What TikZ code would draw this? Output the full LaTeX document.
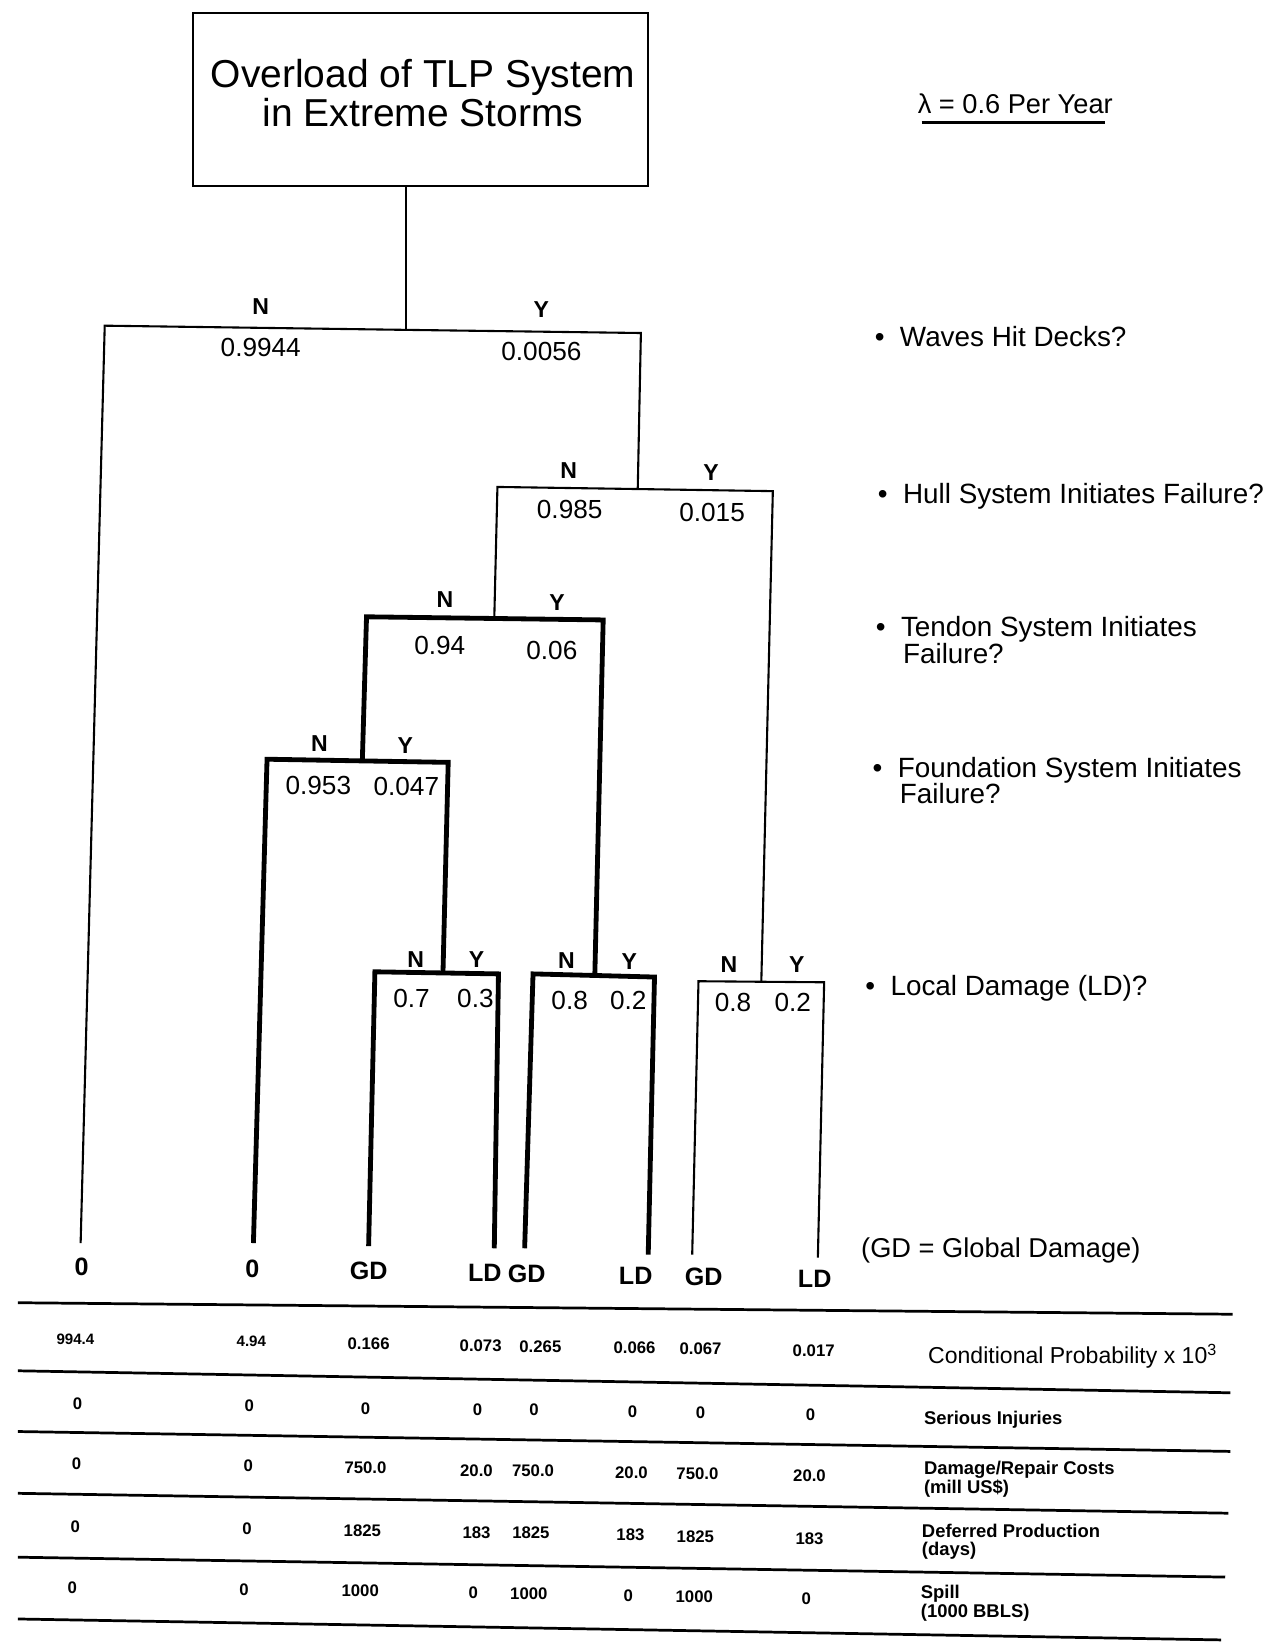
\documentclass[tikz,border=0pt]{standalone}
\usepackage{fontspec}
\setmainfont{Liberation Sans}
\begin{document}
\begin{tikzpicture}[x=0.5pt,y=-0.5pt,
  thinline/.style={line width=1pt},
  heavyline/.style={line width=2.3pt},
  ruleline/.style={line width=1.3pt},
  question/.style={font=\fontsize{13.3}{14}\selectfont, anchor=base west, inner sep=0pt},
  prob/.style={font=\fontsize{12.5}{13}\selectfont, inner sep=0pt},
  yn/.style={font=\bfseries\fontsize{11}{12}\selectfont, inner sep=0pt},
  leaf/.style={font=\bfseries\fontsize{12}{13}\selectfont, inner sep=0pt},
  val/.style={font=\bfseries\fontsize{8}{9}\selectfont, inner sep=0pt},
  smallval/.style={font=\bfseries\fontsize{7.2}{8}\selectfont, inner sep=0pt},
  rowlabel/.style={font=\bfseries\fontsize{8.8}{9}\selectfont, anchor=base west, inner sep=0pt}]
\newcommand{\qbul}{\makebox[12pt][l]{\textbullet}}

% frame of the picture
\useasboundingbox (0,0) rectangle (1225,1568);

% ---- initiating event
\node[draw, thinline, minimum width=217.5pt, minimum height=83pt, inner sep=0pt] (root) at (401.5,95) {};
\node[font=\fontsize{18.6}{16.5}\selectfont, align=center, inner sep=0pt] (title) at (404,89)
  {Overload of TLP System\\in Extreme Storms};
\node[font=\fontsize{13}{14}\selectfont, anchor=base west, inner sep=0pt] (lam) at (876,108) {λ = 0.6 Per Year};
\coordinate (lamA) at (880,117);
\coordinate (lamB) at (1055,117);
\draw[thinline] (lamA) -- (lamB);

% ---- branch points
\coordinate (J1) at (388,315);
\coordinate (A1) at (100,311);
\coordinate (B1) at (612,318);
\coordinate (J2) at (609,467);
\coordinate (A2) at (475,465);
\coordinate (B2) at (738,469);
\coordinate (J3) at (472,590.6);
\coordinate (A3) at (350,589);
\coordinate (B3) at (576,592);
\coordinate (J4) at (346,726.6);
\coordinate (A4) at (255,725);
\coordinate (B4) at (428,728);
\coordinate (J5a) at (423,929.1);
\coordinate (A5a) at (358,928);
\coordinate (B5a) at (476,930);
\coordinate (J5b) at (568,931.5);
\coordinate (A5b) at (509,930);
\coordinate (B5b) at (625,933);
\coordinate (J5c) at (727,937.5);
\coordinate (A5c) at (667,937);
\coordinate (B5c) at (787,938);
% leaf ends
\coordinate (E1) at (77,1187);
\coordinate (E2) at (242,1187);
\coordinate (E3) at (352,1190);
\coordinate (E4) at (472,1192);
\coordinate (E5) at (501,1192);
\coordinate (E6) at (619,1198);
\coordinate (E7) at (661,1198);
\coordinate (E8) at (781,1201);

% ---- tree
\draw[thinline] (root.south -| J1) -- (J1);
\draw[thinline] (E1) -- (A1) -- (J1) -- (B1) -- (J2);
\draw[thinline] (J3) -- (A2) -- (J2) -- (B2) -- (J5c);
\draw[heavyline] (J4) -- (A3) -- (J3) -- (B3) -- (J5b);
\draw[heavyline] (E2) -- (A4) -- (J4) -- (B4) -- (J5a);
\draw[heavyline] (E3) -- (A5a) -- (J5a) -- (B5a) -- (E4);
\draw[heavyline] (E5) -- (A5b) -- (J5b) -- (B5b) -- (E6);
\draw[thinline] (E7) -- (A5c) -- (J5c) -- (B5c) -- (E8);

% ---- branch labels
\node[yn] (n1) at (249,293) {N};
\node[yn] (y1) at (517,296) {Y};
\node[prob] (pn1) at (249,332) {0.9944};
\node[prob] (py1) at (517,336) {0.0056};

\node[yn] (n2) at (543,449) {N};
\node[yn] (y2) at (679,451) {Y};
\node[prob] (pn2) at (544,487) {0.985};
\node[prob] (py2) at (680,489) {0.015};

\node[yn] (n3) at (425,573) {N};
\node[yn] (y3) at (532,575) {Y};
\node[prob] (pn3) at (420,616) {0.94};
\node[prob] (py3) at (527,621) {0.06};

\node[yn] (n4) at (305,710) {N};
\node[yn] (y4) at (387,712) {Y};
\node[prob] (pn4) at (304,750) {0.953};
\node[prob] (py4) at (388,751) {0.047};

\node[yn] (n5a) at (397,916) {N};
\node[yn] (y5a) at (455,916) {Y};
\node[prob] (pn5a) at (393,953) {0.7};
\node[prob] (py5a) at (454,953) {0.3};

\node[yn] (n5b) at (541,917) {N};
\node[yn] (y5b) at (601,918) {Y};
\node[prob] (pn5b) at (544,955) {0.8};
\node[prob] (py5b) at (600,955) {0.2};

\node[yn] (n5c) at (696,921) {N};
\node[yn] (y5c) at (761,921) {Y};
\node[prob] (pn5c) at (700,957) {0.8};
\node[prob] (py5c) at (757,957) {0.2};

% ---- outcomes
\node[leaf] (o1) at (78,1210) {0};
\node[leaf] (o2) at (241,1212) {0};
\node[leaf] (o3) at (352,1214) {GD};
\node[leaf] (o4) at (463,1215) {LD};
\node[leaf] (o5) at (503,1216) {GD};
\node[leaf] (o6) at (607,1218) {LD};
\node[leaf] (o7) at (672,1219) {GD};
\node[leaf] (o8) at (778,1221) {LD};

% ---- questions at each level
\node[question] (q1) at (835,331) {\qbul Waves Hit Decks?};
\node[question] (q2) at (838,481) {\qbul Hull System Initiates Failure?};
\node[question] (q3) at (836,608) {\qbul Tendon System Initiates};
\node[question] (q3b) at (862,634) {Failure?};
\node[question] (q4) at (833,742.5) {\qbul Foundation System Initiates};
\node[question] (q4b) at (859,767) {Failure?};
\node[question] (q5) at (826,950.5) {\qbul Local Damage (LD)?};
\node[font=\fontsize{13}{14}\selectfont, anchor=base west, inner sep=0pt] (gdnote) at (822,1201) {(GD = Global Damage)};

% ---- consequence table rules
\coordinate (r1a) at (17,1244);  \coordinate (r1b) at (1177,1255);
\coordinate (r2a) at (17,1309);  \coordinate (r2b) at (1175,1330);
\coordinate (r3a) at (17,1367);  \coordinate (r3b) at (1175,1386);
\coordinate (r4a) at (17,1426);  \coordinate (r4b) at (1173,1445);
\coordinate (r5a) at (17,1487);  \coordinate (r5b) at (1170,1506);
\coordinate (r6a) at (17,1546);  \coordinate (r6b) at (1166,1566);
\foreach \r in {1,...,6} \draw[ruleline] (r\r a) -- (r\r b);

% row: conditional probability
\node[smallval] (v11) at (72,1279) {994.4};
\node[smallval] (v12) at (240,1281) {4.94};
\node[val] (v13) at (352,1283) {0.166};
\node[val] (v14) at (459,1285) {0.073};
\node[val] (v15) at (516,1286) {0.265};
\node[val] (v16) at (606,1287) {0.066};
\node[val] (v17) at (669,1288) {0.067};
\node[val] (v18) at (777,1290) {0.017};
\node[font=\fontsize{11}{12}\selectfont, anchor=base west, inner sep=0pt] (lab1) at (886,1302)
  {Conditional Probability x 10\textsuperscript{3}};

% row: serious injuries
\node[val] (v21) at (74,1340) {0};
\node[val] (v22) at (238,1342) {0};
\node[val] (v23) at (349,1345) {0};
\node[val] (v24) at (456,1346) {0};
\node[val] (v25) at (510,1346) {0};
\node[val] (v26) at (604,1348) {0};
\node[val] (v27) at (669,1349) {0};
\node[val] (v28) at (774,1351) {0};
\node[rowlabel] (lab2) at (882,1360.5) {Serious Injuries};

% row: damage / repair costs
\node[val] (v31) at (73,1398) {0};
\node[val] (v32) at (237,1400) {0};
\node[val] (v33) at (349,1402) {750.0};
\node[val] (v34) at (455,1404) {20.0};
\node[val] (v35) at (509,1404) {750.0};
\node[val] (v36) at (603,1406) {20.0};
\node[val] (v37) at (666,1407) {750.0};
\node[val] (v38) at (773,1409) {20.0};
\node[rowlabel] (lab3) at (882,1408.5) {Damage/Repair Costs};
\node[rowlabel] (lab3b) at (882,1426) {(mill US\$)};

% row: deferred production
\node[val] (v41) at (72,1458) {0};
\node[val] (v42) at (236,1460) {0};
\node[val] (v43) at (346,1462) {1825};
\node[val] (v44) at (455,1464) {183};
\node[val] (v45) at (507,1464) {1825};
\node[val] (v46) at (602,1466) {183};
\node[val] (v47) at (664,1467) {1825};
\node[val] (v48) at (773,1469) {183};
\node[rowlabel] (lab4) at (880,1468.5) {Deferred Production};
\node[rowlabel] (lab4b) at (880,1485) {(days)};

% row: spill
\node[val] (v51) at (69,1516) {0};
\node[val] (v52) at (233,1518) {0};
\node[val] (v53) at (344,1519) {1000};
\node[val] (v54) at (452,1521) {0};
\node[val] (v55) at (505,1522) {1000};
\node[val] (v56) at (600,1524) {0};
\node[val] (v57) at (663,1525) {1000};
\node[val] (v58) at (770,1527) {0};
\node[rowlabel] (lab5) at (879,1526.5) {Spill};
\node[rowlabel] (lab5b) at (879,1544.5) {(1000 BBLS)};
\end{tikzpicture}
\end{document}
